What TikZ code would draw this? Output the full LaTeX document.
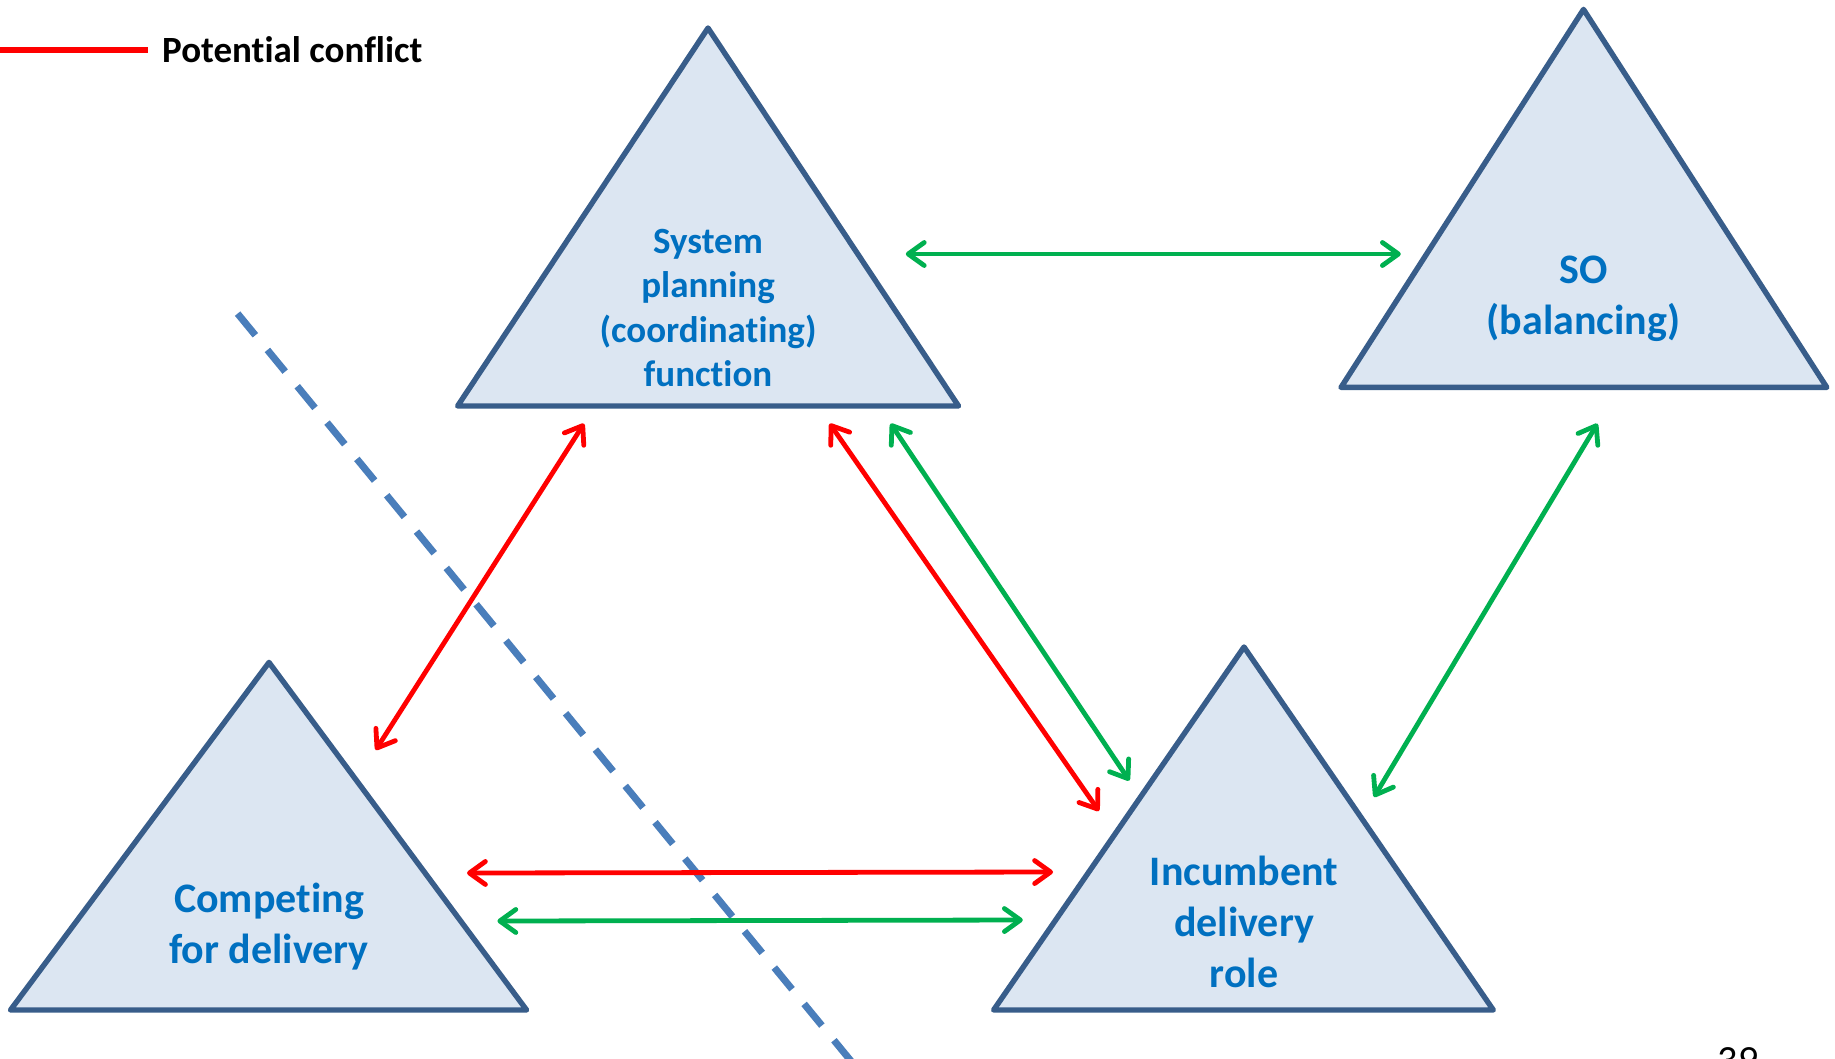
\documentclass[tikz,border=0pt]{standalone}
\usepackage{fontspec}
\setmainfont[Ligatures=NoCommon]{Carlito}
\usetikzlibrary{arrows.meta}

\definecolor{trifill}{HTML}{DCE6F2}
\definecolor{triedge}{HTML}{385D8A}
\definecolor{labelblue}{HTML}{0070C0}
\definecolor{conflictred}{HTML}{FF0000}
\definecolor{linkgreen}{HTML}{00B050}
\definecolor{dividerblue}{HTML}{4A7EBB}

\tikzset{
  tri/.style={fill=trifill, draw=triedge, line width=5.4pt, line join=round},
  lbl/.style={text=labelblue, font=\fontsize{42}{51}\selectfont\bfseries, align=center},
  lblsmall/.style={text=labelblue, font=\fontsize{37}{44.5}\selectfont\bfseries, align=center},
  barb/.tip={Straight Barb[length=16pt,width=23pt,line cap=round,line join=round]},
  link/.style={line width=4.8pt, line cap=round, barb-barb},
  conflict/.style={link, draw=conflictred},
  cooperate/.style={link, draw=linkgreen},
  divider/.style={draw=dividerblue, line width=7pt, dash pattern=on 28pt off 19pt},
}

\begin{document}
\begin{tikzpicture}[x=1pt,y=-1pt]
  \useasboundingbox (0,0) rectangle (1835,1058);
  \clip (0,0) rectangle (1835,1058);

  % legend
  \coordinate (legA) at (0,50);
  \coordinate (legB) at (147.5,50);
  \draw[draw=conflictred, line width=6pt] (legA) -- (legB);
  \node[anchor=west, font=\fontsize{37}{44}\selectfont\bfseries, inner sep=0pt]
    (legtext) at (162,50) {Potential conflict};

  % triangles
  \coordinate (spT) at (708,28);
  \coordinate (spL) at (457.6,406);
  \coordinate (spR) at (958.5,406);
  \draw[tri] (spT) -- (spL) -- (spR) -- cycle;

  \coordinate (soT) at (1583.5,9.4);
  \coordinate (soL) at (1341,387.4);
  \coordinate (soR) at (1826.8,387.4);
  \draw[tri] (soT) -- (soL) -- (soR) -- cycle;

  \coordinate (cpT) at (269,662.4);
  \coordinate (cpL) at (10.5,1010);
  \coordinate (cpR) at (526.6,1010);
  \draw[tri] (cpT) -- (cpL) -- (cpR) -- cycle;

  \coordinate (inT) at (1244,647);
  \coordinate (inL) at (993.6,1010);
  \coordinate (inR) at (1493.3,1010);
  \draw[tri] (inT) -- (inL) -- (inR) -- cycle;

  % labels
  \node[lblsmall] (sp) at (708,308) {System\\planning\\(coordinating)\\function};
  \node[lbl] (so) at (1583.5,298.5) {SO\\(balancing)};
  \node[lbl] (cp) at (269,927) {Competing\\for delivery};
  \node[lbl] (inc) at (1244,922) {Incumbent\\delivery\\role};

  % divider
  \coordinate (divA) at (237.6,313.6);
  \coordinate (divB) at (860,1072);
  \draw[divider] (divA) -- (divB);

  % connector ends
  \coordinate (r1a) at (584,423.6);   \coordinate (r1b) at (375.7,750);
  \coordinate (r2a) at (829.7,423.6); \coordinate (r2b) at (1098.9,811);
  \coordinate (g1a) at (890.6,423.6); \coordinate (g1b) at (1129.3,780.6);
  \coordinate (gta) at (905.8,254);   \coordinate (gtb) at (1400.8,254);
  \coordinate (gsa) at (1597.4,423.6);\coordinate (gsb) at (1374,797);
  \coordinate (rha) at (467,873);     \coordinate (rhb) at (1053,872);
  \coordinate (gha) at (497.4,921);   \coordinate (ghb) at (1022.8,920);

  \draw[conflict] (r1a) -- (r1b);
  \draw[conflict] (r2a) -- (r2b);
  \draw[cooperate] (g1a) -- (g1b);
  \draw[cooperate] (gta) -- (gtb);
  \draw[cooperate] (gsa) -- (gsb);
  \draw[conflict] (rha) -- (rhb);
  \draw[cooperate] (gha) -- (ghb);

  % page number, running off the lower edge
  \node[anchor=base, font=\fontsize{40}{48}\selectfont, inner sep=0pt] (pageno) at (1738,1073) {39};
\end{tikzpicture}
\end{document}
